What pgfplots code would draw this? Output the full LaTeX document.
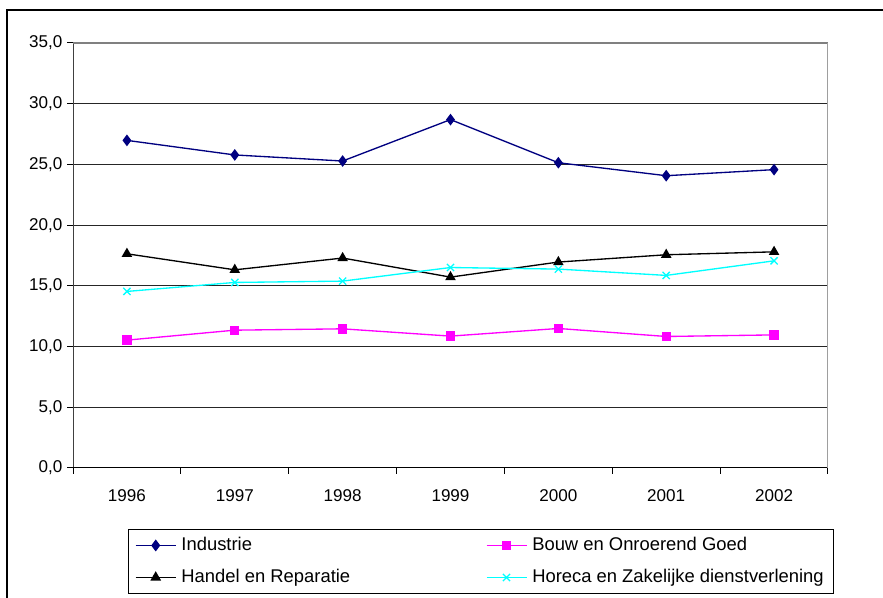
\documentclass[border=0pt]{standalone}
\usepackage{fontspec}
\setmainfont{Liberation Sans}
\usepackage{pgfplots}
\pgfplotsset{compat=1.18}
\definecolor{navy}{RGB}{0,0,128}
\definecolor{mag}{RGB}{255,0,255}
\definecolor{cyn}{RGB}{0,255,255}
\begin{document}
\begin{tikzpicture}
\path[use as bounding box] (0,0) rectangle (662.25pt,448.5pt);
\draw[black, line width=0.9pt] (5.25pt,0) -- (5.25pt,441pt) -- (662.25pt,441pt);
\begin{axis}[
  at={(54.75pt,97.5pt)}, anchor=south west,
  scale only axis, width=566.25pt, height=318.75pt,
  xmin=0.5, xmax=7.5, ymin=0, ymax=35,
  xtick={0.5,1.5,...,7.5},
  x tick label as interval,
  xticklabels={1996,1997,1998,1999,2000,2001,2002},
  ytick={0,5,...,35},
  tick align=outside,
  major tick length=4.5pt,
  tick style={black, line width=0.75pt},
  xtick pos=bottom, ytick pos=left,
  axis line style={draw=none},
  ymajorgrids,
  grid style={black!85, line width=0.75pt},
  tick label style={font=\fontsize{12.8}{15}\selectfont},
  xticklabel style={yshift=-8pt},
  /pgf/number format/.cd, fixed, fixed zerofill, precision=1, use comma, assume math mode=true,
  /pgfplots/.cd,
  legend columns=2,
  legend style={at={(0.0735,-0.1435)}, anchor=north west, draw=black, line width=0.75pt,
    inner xsep=4.5pt, inner ysep=6pt, row sep=12pt, column sep=0pt,
    font=\fontsize{13.8}{15}\selectfont,
    nodes={inner sep=0pt, text height=9.5pt, text depth=2.5pt}},
  legend cell align=left,
  every legend image post/.style={line width=1.1pt},
  legend image code/.code={\draw[mark repeat=2,mark phase=2] plot coordinates {(0pt,0pt) (15pt,0pt) (30pt,0pt)};},
]
\draw[black!75, line width=1pt] (rel axis cs:0,0) -- (rel axis cs:0,1);
\draw[black, line width=1pt] (rel axis cs:0,0) -- (rel axis cs:1,0);
\addplot[navy, line width=1pt, mark=diamond*, mark size=3.6pt, mark options={solid}] coordinates {
 (1,26.98) (2,25.78) (3,25.28) (4,28.69) (5,25.14) (6,24.07) (7,24.57)};
\addlegendentry{\makebox[232pt][l]{\hspace{3.75pt}Industrie}}
\addplot[mag, line width=1pt, mark=square*, mark size=3pt] coordinates {
 (1,10.53) (2,11.35) (3,11.46) (4,10.86) (5,11.49) (6,10.83) (7,10.96)};
\addlegendentry{\makebox[225pt][l]{\hspace{3.75pt}Bouw en Onroerend Goed}}
\addplot[black, line width=1pt, mark=triangle*, mark size=3.6pt] coordinates {
 (1,17.64) (2,16.32) (3,17.29) (4,15.72) (5,16.96) (6,17.56) (7,17.80)};
\addlegendentry{\makebox[232pt][l]{\hspace{3.75pt}Handel en Reparatie}}
\addplot[cyn, line width=1pt, mark=x, mark size=3.8pt, mark options={line width=1pt}] coordinates {
 (1,14.54) (2,15.28) (3,15.39) (4,16.51) (5,16.38) (6,15.86) (7,17.06)};
\addlegendentry{\makebox[225pt][l]{\hspace{3.75pt}Horeca en Zakelijke dienstverlening}}
\draw[black!50, line width=1.1pt] (rel axis cs:0,1) -- (rel axis cs:1,1);
\draw[black!38, line width=1.5pt] (rel axis cs:1,1) -- (rel axis cs:1,0);
\end{axis}
\end{tikzpicture}
\end{document}
